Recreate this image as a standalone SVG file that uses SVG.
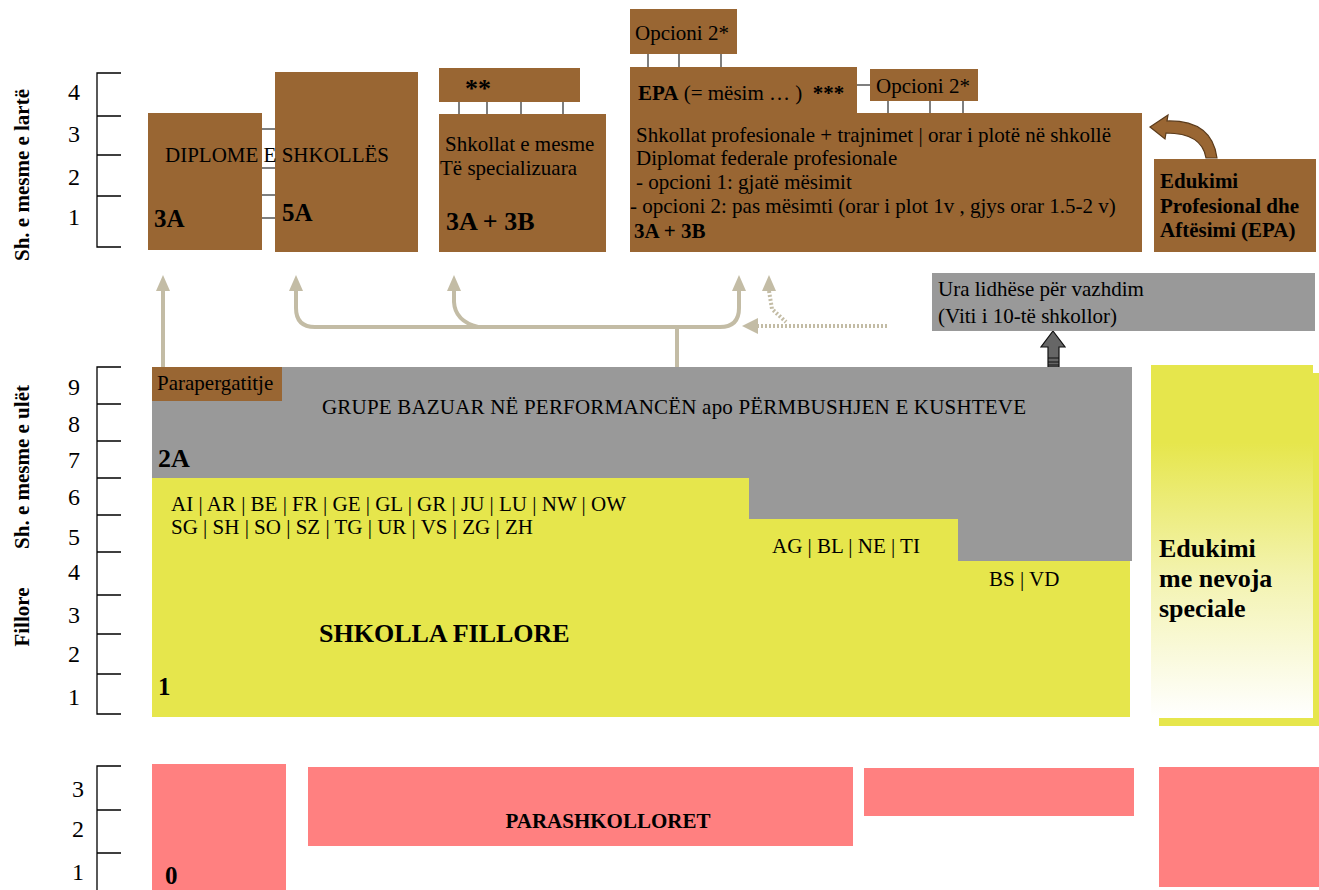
<svg xmlns="http://www.w3.org/2000/svg" width="1319" height="890" viewBox="0 0 1319 890">
<style>
text{font-family:"Liberation Serif","Times New Roman",serif;fill:#000;font-size:21px}
.b{font-weight:bold}
.s25{font-size:25px}
.s26{font-size:26px}
.ax{font-size:24px}
.side{font-size:21px;font-weight:bold}
.brown{fill:#996633}
.gray{fill:#999999}
.yel{fill:#E6E64C}
.pink{fill:#FF8080}
.tick{stroke:#000;stroke-width:1.3;fill:none}
.link{stroke:#555;stroke-width:1.5;fill:none}
.beige{stroke:#C3BCA5;stroke-width:4;fill:none}
.beigef{fill:#C3BCA5}
</style>
<defs>
<linearGradient id="sg" x1="0" y1="0" x2="0" y2="1">
<stop offset="0" stop-color="#E6E64C"/>
<stop offset="0.22" stop-color="#E6E64C"/>
<stop offset="0.6" stop-color="#F3F3B0"/>
<stop offset="1" stop-color="#FFFFFF"/>
</linearGradient>
</defs>
<rect width="1319" height="890" fill="#fff"/>

<g id="axes">
<path class="tick" d="M121,73H97V247H121M97,116H121M97,155H121M97,196H121"/>
<text class="ax" x="68" y="100">4</text>
<text class="ax" x="68" y="142">3</text>
<text class="ax" x="68" y="185">2</text>
<text class="ax" x="68" y="225">1</text>
<path class="tick" d="M121,367H97V714H121M97,404H121M97,441H121M97,478H121M97,515H121M97,552H121M97,595H121M97,634H121M97,674H121"/>
<text class="ax" x="68" y="395">9</text>
<text class="ax" x="68" y="432">8</text>
<text class="ax" x="68" y="468">7</text>
<text class="ax" x="68" y="505">6</text>
<text class="ax" x="68" y="545">5</text>
<text class="ax" x="68" y="580">4</text>
<text class="ax" x="68" y="623">3</text>
<text class="ax" x="68" y="662">2</text>
<text class="ax" x="68" y="705">1</text>
<path class="tick" d="M121,766H97V890M97,810H121M97,853H121"/>
<text class="ax" x="72" y="797">3</text>
<text class="ax" x="72" y="837">2</text>
<text class="ax" x="72" y="880">1</text>
<text class="side" text-anchor="middle" transform="translate(29,175) rotate(-90)">Sh. e mesme e lartë</text>
<text class="side" text-anchor="middle" transform="translate(29,467) rotate(-90)">Sh. e mesme e ulët</text>
<text class="side" text-anchor="middle" transform="translate(29,617) rotate(-90)">Fillore</text>
</g>

<g id="connectors">
<path class="link" d="M262,129H275M262,168H275M262,195H275M262,218H275"/>
<path class="link" d="M459,102V114M487,102V114M521,102V114M563,102V114"/>
<path class="link" d="M648,54V67M679,54V67M721,54V67"/>
<path class="link" d="M857,85H870M888,101V113M930,101V113M963,101V113"/>
<path class="beige" d="M163,367V288"/>
<polygon class="beigef" points="156,291 163,275 170,291"/>
<path class="beige" d="M296,289V308Q296,327 315,327H720Q739,327 739,308V289"/>
<path class="beige" d="M478,327Q455,321 454,302V289"/>
<path class="beige" d="M677,367V327"/>
<polygon class="beigef" points="289,291 296,275 303,291"/>
<polygon class="beigef" points="447,291 454,275 461,291"/>
<polygon class="beigef" points="732,291 739,275 746,291"/>
<path class="beige" stroke-dasharray="2,2" d="M769,291L772,309L786,322"/>
<polygon class="beigef" points="762,291 769,275 776,291"/>
<path class="beige" stroke-width="5" stroke-dasharray="2,2" d="M757,326H888"/>
<polygon class="beigef" points="758,318 742,326 758,334"/>
<path d="M1150,127L1168,115L1167,121Q1212,120 1217,158L1206,158Q1202,133 1166,133L1165,139Z" fill="#996633" stroke="#5a3a1a" stroke-width="1.2"/>
<path d="M1053,331L1065,347L1059,347L1059,367L1048,367L1048,347L1041,347Z" fill="#666" stroke="#111" stroke-width="1.2"/>
<path d="M1048,358H1059M1048,362H1059M1048,365H1059" stroke="#111" stroke-width="1.2"/>
</g>

<g id="n3a">
<rect class="brown" x="148" y="113" width="114" height="137"/>
<text class="b s25" x="154" y="227">3A</text>
</g>
<g id="n5a">
<rect class="brown" x="275" y="72" width="143" height="180"/>
<text class="b s25" x="282" y="221">5A</text>
</g>
<g id="diplome">
<text x="165" y="162">DIPLOME E SHKOLLËS</text>
</g>

<g id="stars2">
<rect class="brown" x="439" y="68" width="141" height="34"/>
<text class="b s26" x="465" y="97">**</text>
</g>
<g id="specialized">
<rect class="brown" x="439" y="114" width="167" height="138"/>
<text x="445" y="151">Shkollat e mesme</text>
<text x="440" y="175">Të specializuara</text>
<text class="b s26" x="446" y="230">3A + 3B</text>
</g>

<g id="opt2top">
<rect class="brown" x="630" y="9" width="107" height="45"/>
<text x="635" y="40">Opcioni 2*</text>
</g>
<g id="epa">
<rect class="brown" x="630" y="67" width="227" height="46"/>
<text x="638" y="100"><tspan class="b">EPA</tspan> (= mësim … ) &#160;<tspan class="b">***</tspan></text>
</g>
<g id="opt2right">
<rect class="brown" x="870" y="69" width="108" height="32"/>
<text x="876" y="93">Opcioni 2*</text>
</g>
<g id="vocational">
<rect class="brown" x="630" y="113" width="512" height="139"/>
<text x="636" y="142">Shkollat profesionale + trajnimet | orar i plotë në shkollë</text>
<text x="636" y="165">Diplomat federale profesionale</text>
<text x="636" y="189">- opcioni 1: gjatë mësimit</text>
<text x="630" y="213">- opcioni 2: pas mësimti (orar i plot 1v , gjys orar 1.5-2 v)</text>
<text class="b" x="634" y="238">3A + 3B</text>
</g>
<g id="epaLabel">
<rect class="brown" x="1154" y="159" width="162" height="93"/>
<text class="b" x="1160" y="188">Edukimi</text>
<text class="b" x="1160" y="213">Profesional dhe</text>
<text class="b" x="1160" y="237">Aftësimi (EPA)</text>
</g>

<g id="bridge">
<rect class="gray" x="932" y="273" width="383" height="58"/>
<text x="938" y="296">Ura lidhëse për vazhdim</text>
<text x="938" y="323">(Viti i 10-të shkollor)</text>
</g>

<g id="lowerSecondary">
<rect class="gray" x="152" y="367" width="980" height="194"/>
<text x="322" y="414" textLength="704" lengthAdjust="spacing">GRUPE BAZUAR NË PERFORMANCËN apo PËRMBUSHJEN E KUSHTEVE</text>
<text class="b s26" x="158" y="467">2A</text>
</g>
<g id="prep">
<rect class="brown" x="152" y="367" width="130" height="34"/>
<text x="157" y="390">Parapergatitje</text>
</g>

<g id="primary">
<rect class="yel" x="152" y="478" width="597" height="239"/>
<rect class="yel" x="749" y="519" width="209" height="198"/>
<rect class="yel" x="958" y="561" width="172" height="156"/>
<text x="171" y="511">AI | AR | BE | FR | GE | GL | GR | JU | LU | NW | OW</text>
<text x="171" y="534">SG | SH | SO | SZ | TG | UR | VS | ZG | ZH</text>
<text x="772" y="553">AG | BL | NE | TI</text>
<text x="989" y="586">BS | VD</text>
<text class="b s26" x="319" y="642">SHKOLLA FILLORE</text>
<text class="b s25" x="158" y="695">1</text>
</g>

<g id="specialEd">
<rect class="yel" x="1159" y="373" width="162" height="353"/>
<rect x="1151" y="365" width="162" height="353" fill="url(#sg)"/>
<text class="b s26" x="1159" y="557">Edukimi</text>
<text class="b s26" x="1159" y="587">me nevoja</text>
<text class="b s26" x="1159" y="617">speciale</text>
</g>

<g id="preschool">
<rect class="pink" x="152" y="764" width="134" height="126"/>
<text class="b s25" x="165" y="884">0</text>
<rect class="pink" x="308" y="767" width="545" height="79"/>
<text class="b" x="608" y="828" text-anchor="middle">PARASHKOLLORET</text>
<rect class="pink" x="864" y="768" width="270" height="48"/>
<rect class="pink" x="1159" y="767" width="160" height="120"/>
</g>
</svg>
